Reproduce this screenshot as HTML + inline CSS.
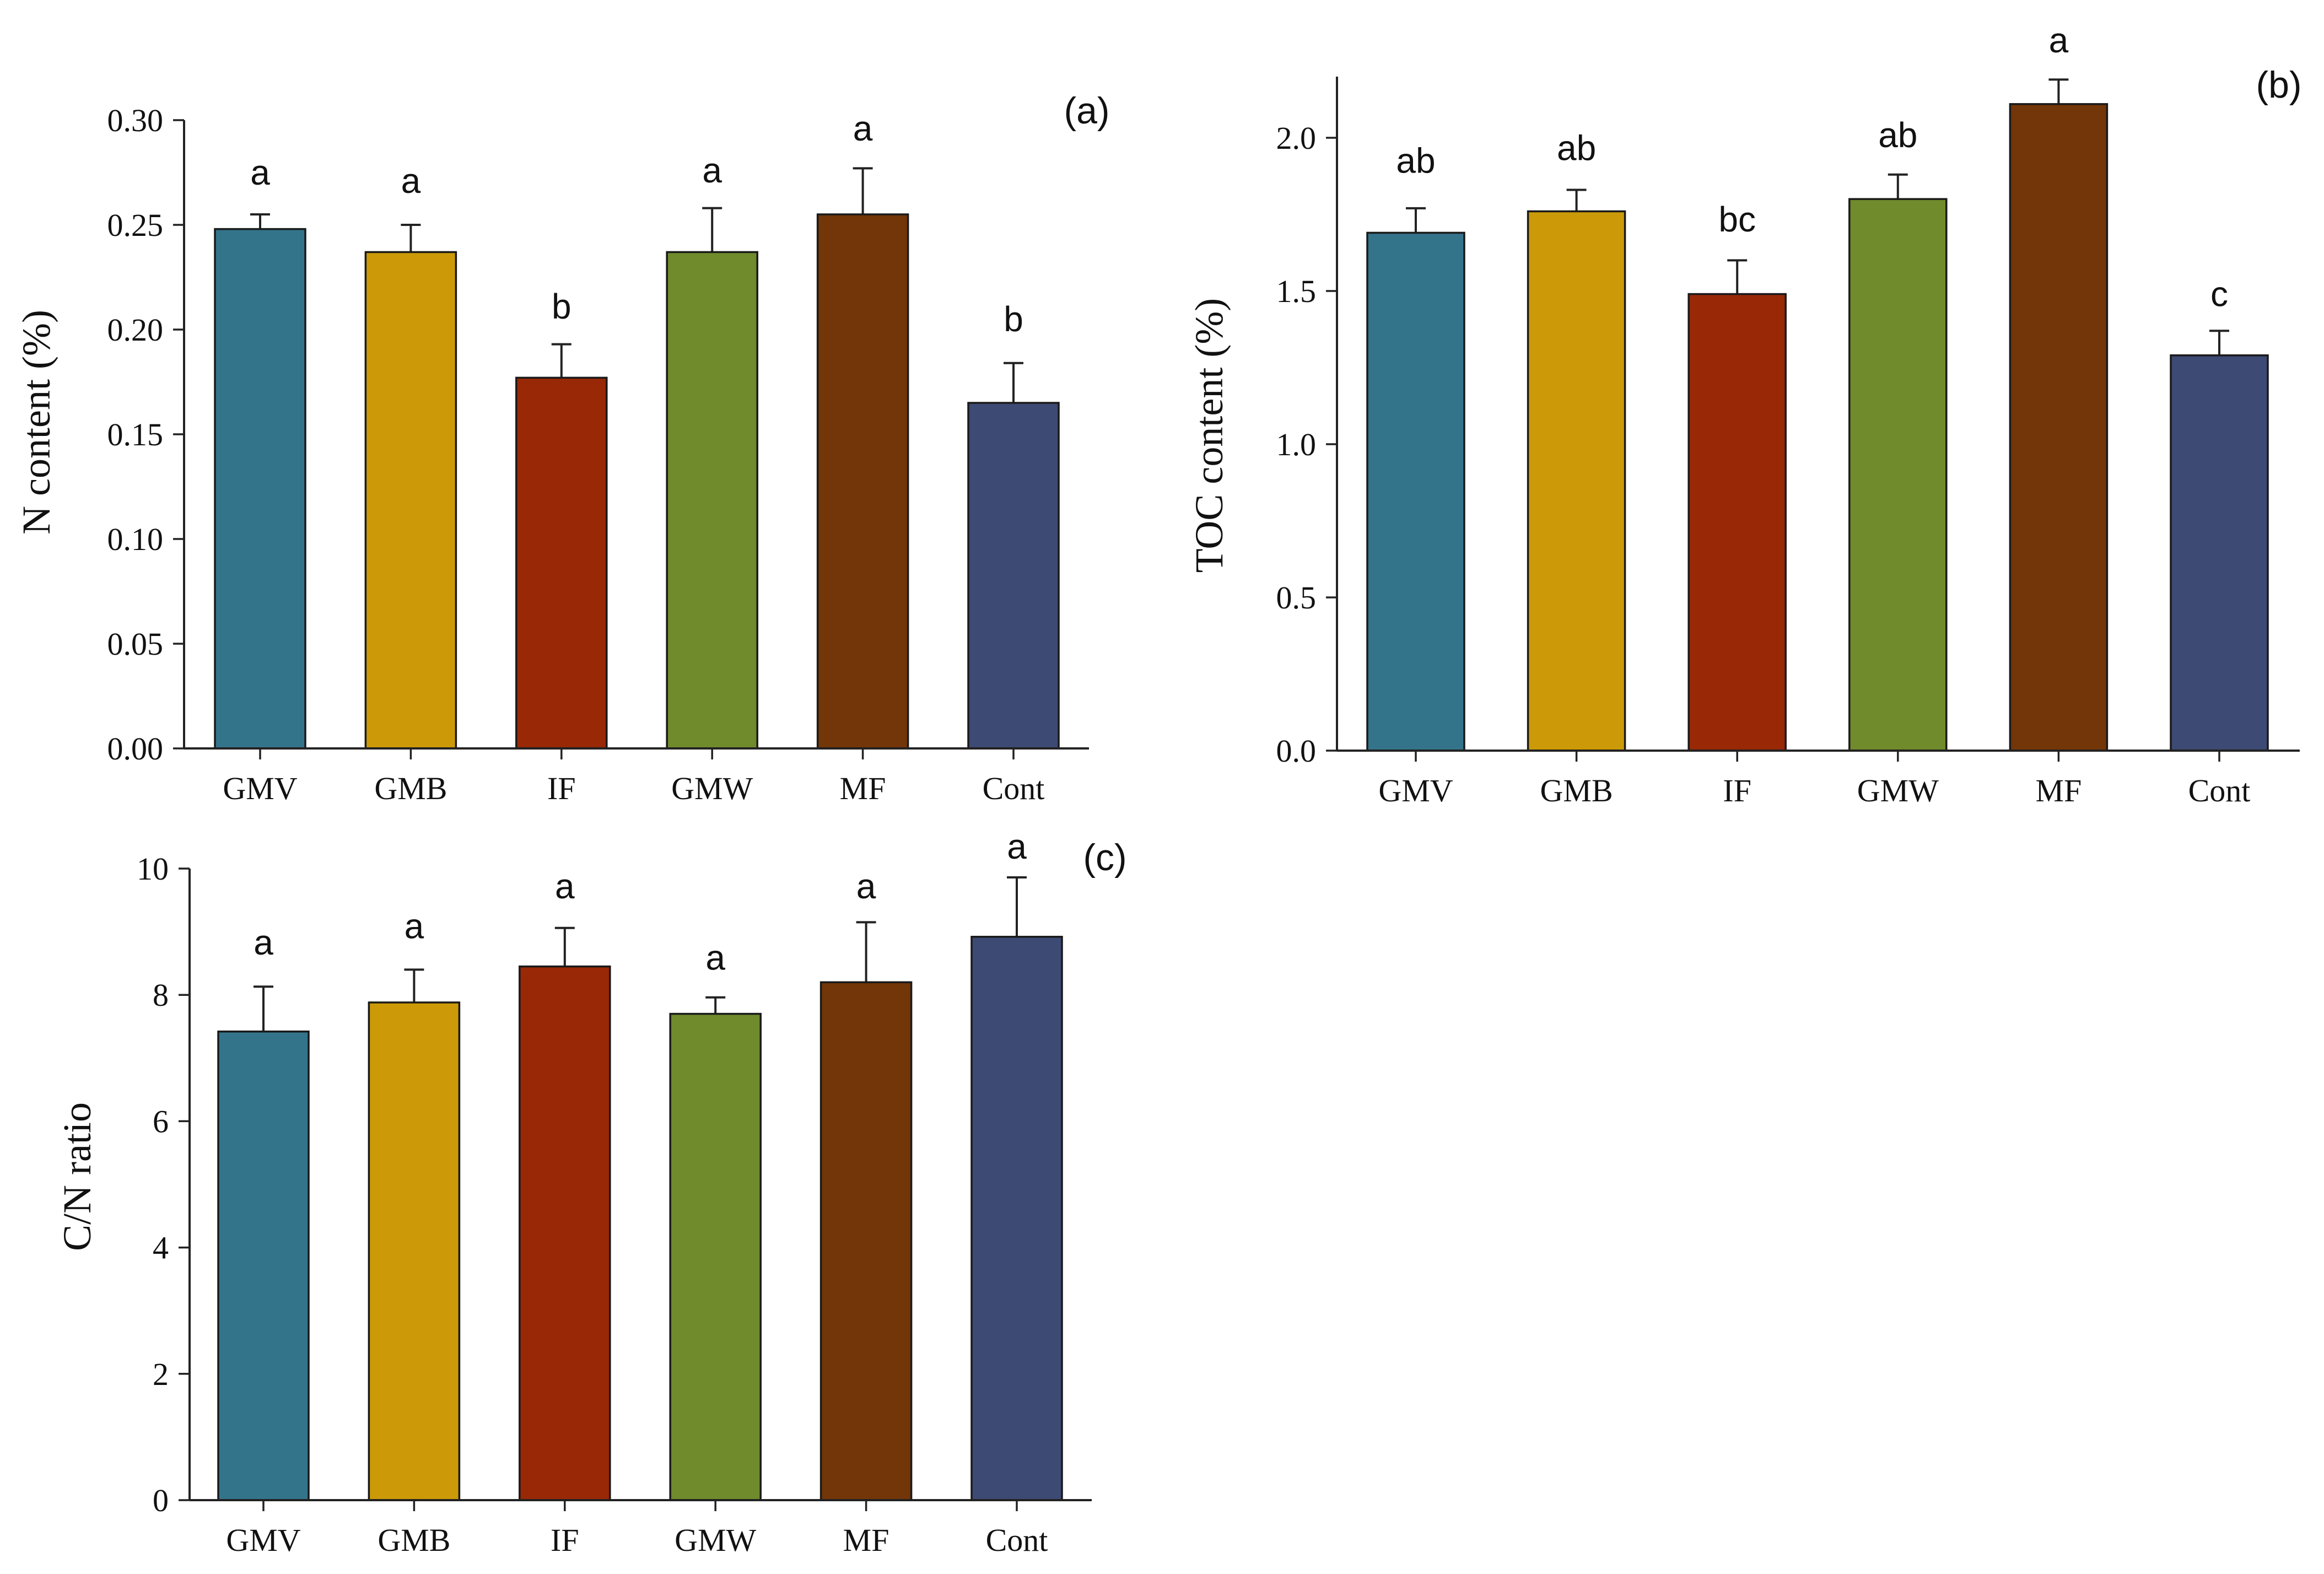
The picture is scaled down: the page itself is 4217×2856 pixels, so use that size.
<!DOCTYPE html>
<html><head><meta charset="utf-8">
<style>
html,body{margin:0;padding:0;background:#fff;}
svg{display:block;}
.tick{font-family:"Liberation Serif",serif;font-size:58px;fill:#111;}
.ttl{font-family:"Liberation Serif",serif;font-size:72px;fill:#111;}
.let{font-family:"Liberation Sans",sans-serif;font-size:64px;fill:#111;}
.pl{font-family:"Liberation Sans",sans-serif;font-size:68px;fill:#111;}
</style></head>
<body>
<svg id="chart" width="4217" height="2856" viewBox="0 0 4217 2856" xmlns="http://www.w3.org/2000/svg"></svg>
<script>
const categories = ["GMV","GMB","IF","GMW","MF","Cont"];
const colors = ["#34748b","#cc9a08","#982806","#6f8b2c","#733608","#3d4a73"];

const nValues = [0.248,0.237,0.177,0.237,0.255,0.165];
const nErrTop = [0.255,0.250,0.193,0.258,0.277,0.184];
const nLetters = ["a","a","b","a","a","b"];
const nLetterY = [0.275,0.271,0.211,0.276,0.296,0.205];
const nTicks = ["0.00","0.05","0.10","0.15","0.20","0.25","0.30"];

const tocValues = [1.69,1.76,1.49,1.80,2.11,1.29];
const tocErrTop = [1.77,1.83,1.60,1.88,2.19,1.37];
const tocLetters = ["ab","ab","bc","ab","a","c"];
const tocLetterY = [1.925,1.967,1.734,2.009,2.318,1.49];
const tocTicks = ["0.0","0.5","1.0","1.5","2.0"];

const cnValues = [7.42,7.88,8.45,7.70,8.20,8.92];
const cnErrTop = [8.13,8.40,9.06,7.96,9.15,9.86];
const cnLetters = ["a","a","a","a","a","a"];
const cnLetterY = [8.83,9.09,9.72,8.59,9.72,10.35];
const cnTicks = ["0","2","4","6","8","10"];

const NS="http://www.w3.org/2000/svg";
const svg=document.getElementById('chart');
function mk(tag,attrs,parent){const e=document.createElementNS(NS,tag);for(const k in attrs)e.setAttribute(k,attrs[k]);(parent||svg).appendChild(e);return e;}

function panel(cfg){
  const g=mk('g',{});
  
  
  const yS=v=>cfg.y0-(v-cfg.vmin)/(cfg.vmax-cfg.vmin)*(cfg.y0-cfg.y1);
  const xS=i=>cfg.xFirst+i*cfg.step;
  cfg.values.forEach((v,i)=>{
    const cx=xS(i);
    const ey=mk('line',{x1:cx,x2:cx,y1:yS(v),y2:yS(cfg.err[i]),stroke:'#222','stroke-width':4},g);
    
    
    const cap=mk('line',{x1:cx-18,x2:cx+18,y1:yS(cfg.err[i]),y2:yS(cfg.err[i]),stroke:'#222','stroke-width':4},g);
    
    
    const r=mk('rect',{x:cx-cfg.bw/2,y:yS(v),width:cfg.bw,height:yS(cfg.vmin)-yS(v),fill:colors[i],stroke:'#1a1a1a','stroke-width':3.5},g);
    
    
    const t=mk('text',{x:cx,y:yS(cfg.letterY[i])+22,'text-anchor':'middle',class:'let'},g);
    t.textContent=cfg.letters[i];
    
    
    const tk=mk('line',{x1:cx,x2:cx,y1:cfg.y0,y2:cfg.y0+20,stroke:'#222','stroke-width':3.5},g);
    
    
    const xl=mk('text',{x:cx,y:cfg.y0+92,'text-anchor':'middle',class:'tick'},g);
    xl.textContent=categories[i];
    
    
  });
  const ya=mk('line',{x1:cfg.ax,x2:cfg.ax,y1:cfg.axTop,y2:cfg.y0,stroke:'#222','stroke-width':4},g);
  
  
  const xa=mk('line',{x1:cfg.ax,x2:cfg.axRight,y1:cfg.y0,y2:cfg.y0,stroke:'#222','stroke-width':4},g);
  
  
  cfg.ticks.forEach(lbl=>{
    const v=parseFloat(lbl);const y=yS(v);
    const tk=mk('line',{x1:cfg.ax-20,x2:cfg.ax,y1:y,y2:y,stroke:'#222','stroke-width':3.5},g);
    
    
    const t=mk('text',{x:cfg.ax-38,y:y+20,'text-anchor':'end',class:'tick'},g);
    t.textContent=lbl;
    
    
  });
  const tt=mk('text',{x:cfg.titleX,y:cfg.titleY,'text-anchor':'middle',class:'ttl',transform:'rotate(-90 '+cfg.titleX+' '+cfg.titleY+')'},g);
  tt.textContent=cfg.title;
  
  
  const pl=mk('text',{x:cfg.plX,y:cfg.plY+24,'text-anchor':'middle',class:'pl'},g);
  pl.textContent=cfg.panelLabel;
  
  
}

panel({name:'panel-a-n-content',values:nValues,err:nErrTop,letters:nLetters,letterY:nLetterY,ticks:nTicks,
  vmin:0,vmax:0.30,y0:1358,y1:218,ax:334,axTop:218,axRight:1976,xFirst:472,step:273.4,bw:164,
  title:'N content  (%)',titleX:90,titleY:766,panelLabel:'(a)',plX:1972,plY:200});
panel({name:'panel-b-toc-content',values:tocValues,err:tocErrTop,letters:tocLetters,letterY:tocLetterY,ticks:tocTicks,
  vmin:0,vmax:2.0,y0:1362,y1:250,ax:2426,axTop:139,axRight:4173,xFirst:2569,step:291.6,bw:176,
  title:'TOC content  (%)',titleX:2218,titleY:790,panelLabel:'(b)',plX:4135,plY:153});
panel({name:'panel-c-cn-ratio',values:cnValues,err:cnErrTop,letters:cnLetters,letterY:cnLetterY,ticks:cnTicks,
  vmin:0,vmax:10,y0:2722,y1:1576,ax:344,axTop:1576,axRight:1981,xFirst:478,step:273.4,bw:164,
  title:'C/N ratio',titleX:164,titleY:2135,panelLabel:'(c)',plX:2005,plY:1555});
</script>
</body></html>
